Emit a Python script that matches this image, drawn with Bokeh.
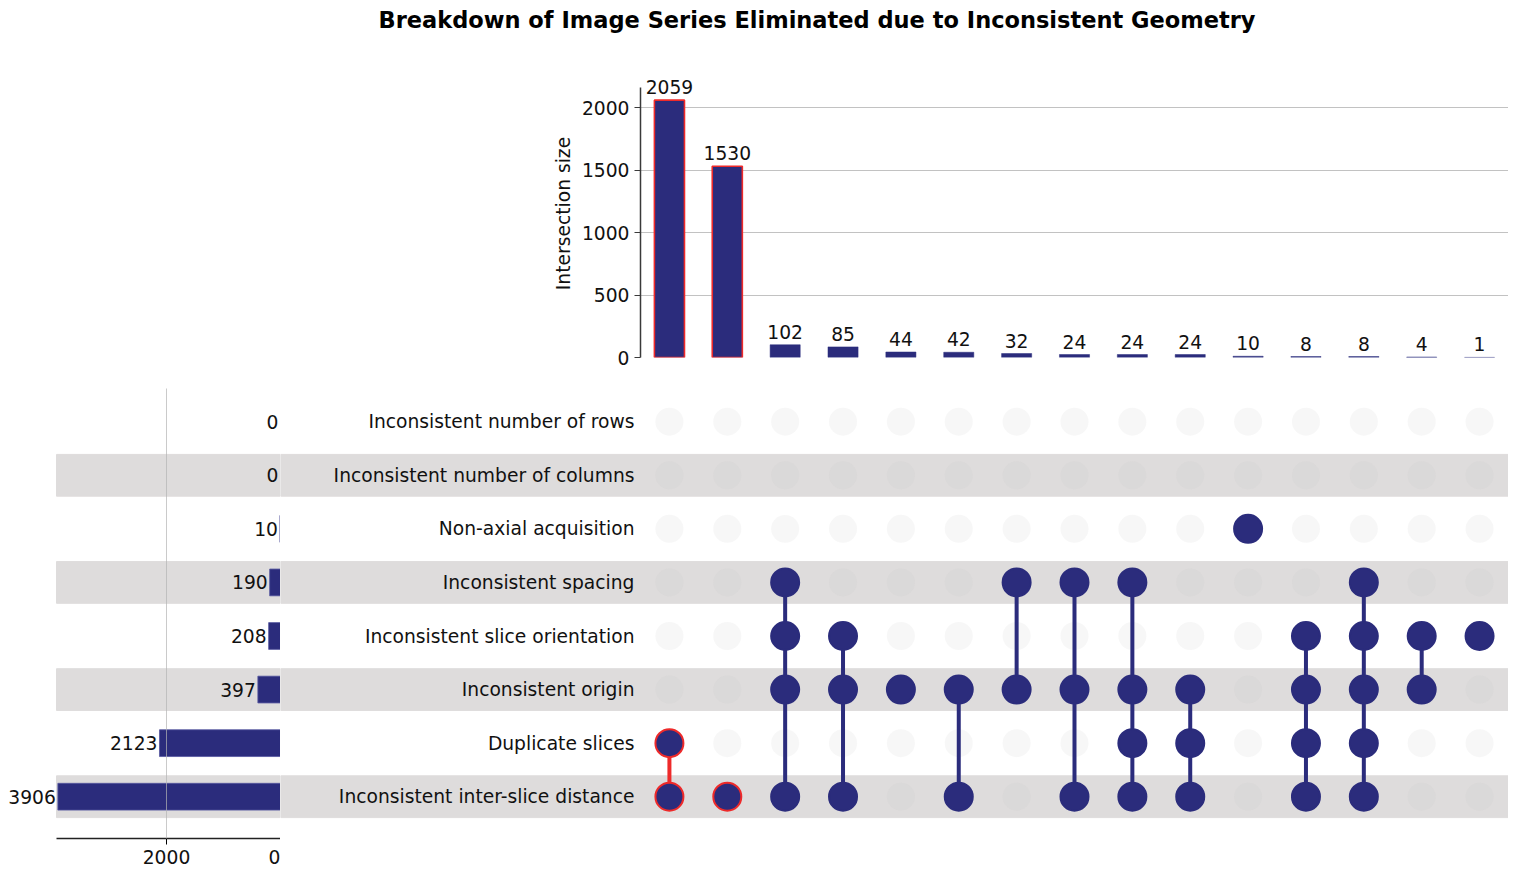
from bokeh.plotting import figure
from bokeh.layouts import column, row
from bokeh.models import ColumnDataSource, Range1d, LabelSet, FixedTicker
from bokeh.core.properties import value
from bokeh.embed import file_html
from bokeh.resources import INLINE

# data
chart_title = "Breakdown of Image Series Eliminated due to Inconsistent Geometry"
set_names = [
    "Inconsistent number of rows",
    "Inconsistent number of columns",
    "Non-axial acquisition",
    "Inconsistent spacing",
    "Inconsistent slice orientation",
    "Inconsistent origin",
    "Duplicate slices",
    "Inconsistent inter-slice distance",
]
set_sizes = [0, 0, 10, 190, 208, 397, 2123, 3906]
inter_sizes = [2059, 1530, 102, 85, 44, 42, 32, 24, 24, 24, 10, 8, 8, 4, 1]
# which sets (index into set_names) take part in each intersection
inter_members = [
    [6, 7],
    [7],
    [3, 4, 5, 7],
    [4, 5, 7],
    [5],
    [5, 7],
    [3, 5],
    [3, 5, 7],
    [3, 5, 6, 7],
    [5, 6, 7],
    [2],
    [4, 5, 6, 7],
    [3, 4, 5, 6, 7],
    [4, 5],
    [4],
]
highlighted = [True, True] + [False] * 13

NAVY = "#2b2c7c"
RED = "#ee2a2a"
BAND = "#dedcdc"
FONT = "DejaVu Sans"
FS = "18.7px"

n_sets = len(set_names)
n_cols = len(inter_sizes)
row_y = [n_sets - 1 - k for k in range(n_sets)]
band_y = [row_y[k] for k in range(n_sets) if k % 2 == 1]
cols = list(range(n_cols))

x_lo, x_hi = -0.5, n_cols - 0.5
y_lo, y_hi = -0.78, n_sets - 1 + 0.62
top_max = 2160
top_room = top_max + 144      # headroom so the value label of the tallest bar is not cut
set_max = 3930
set_room = set_max * 280 / 224   # leaves room left of the longest bar for its label

# ---- title (its frame lines up with the bar chart below)
p_title = figure(width=1508, height=37, output_backend="svg", toolbar_location=None,
                 min_border_left=640, min_border_right=0, min_border_top=0, min_border_bottom=0,
                 x_axis_location=None, y_axis_location=None, title=chart_title)
p_title.title.align = "left"
p_title.title.offset = -262
p_title.title.text_font = FONT
p_title.title.text_font_size = "22.5px"
p_title.title.text_font_style = "bold"
p_title.title.text_color = "#000000"
p_title.outline_line_color = None
p_title.xgrid.visible = False
p_title.ygrid.visible = False

# ---- intersection size bars
top_src = ColumnDataSource(dict(
    x=cols, size=inter_sizes, label=[str(v) for v in inter_sizes],
    edge=[RED if h else NAVY for h in highlighted],
    lw=[1.6 if h else 0.5 for h in highlighted],
))
p_top = figure(width=1508, height=348, output_backend="svg", toolbar_location=None,
               x_range=Range1d(x_lo, x_hi), y_range=Range1d(0, top_room),
               min_border_left=640, min_border_right=0, min_border_top=32, min_border_bottom=28)
p_top.vbar(x="x", top="size", width=0.52, source=top_src, fill_color=NAVY,
           line_color="edge", line_width="lw")
p_top.add_layout(LabelSet(x="x", y="size", text="label", source=top_src, text_align="center",
                          text_baseline="bottom", y_offset=6, text_font=value(FONT),
                          text_font_size=FS, text_color="#111111"))
p_top.xaxis.visible = False
p_top.xgrid.visible = False
p_top.yaxis.ticker = FixedTicker(ticks=[0, 500, 1000, 1500, 2000])
p_top.yaxis.bounds = (0, top_max)
p_top.yaxis.axis_label = "Intersection size"
p_top.yaxis.axis_label_text_font = FONT
p_top.yaxis.axis_label_text_font_size = FS
p_top.yaxis.axis_label_text_font_style = "normal"
p_top.yaxis.axis_label_text_color = "#111111"
p_top.yaxis.axis_label_standoff = 5
p_top.yaxis.major_label_text_font = FONT
p_top.yaxis.major_label_text_font_size = FS
p_top.yaxis.major_label_text_color = "#111111"
p_top.yaxis.axis_line_color = "#3a3a3a"
p_top.yaxis.axis_line_width = 1.5
p_top.yaxis.major_tick_line_color = "#3a3a3a"
p_top.yaxis.major_tick_out = 6
p_top.yaxis.major_tick_in = 0
p_top.yaxis.minor_tick_line_color = None
p_top.ygrid.grid_line_color = "#c2c2c2"
p_top.ygrid.grid_line_width = 1.2
p_top.outline_line_color = None

# ---- set size bars
set_src = ColumnDataSource(dict(y=row_y, size=set_sizes, label=[str(v) for v in set_sizes]))
p_set = figure(width=280, height=487, output_backend="svg", toolbar_location=None,
               x_range=Range1d(set_room, 0), y_range=Range1d(y_lo, y_hi),
               min_border_left=0, min_border_right=0, min_border_top=3, min_border_bottom=34,
               y_axis_location=None)
p_set.hbar(y=band_y, left=0, right=set_max, height=0.78, color=BAND)
p_set.hbar(y="y", left=0, right="size", height=0.5, source=set_src, fill_color=NAVY,
           line_color="#5557a0", line_width=0.8)
p_set.add_layout(LabelSet(x="size", y="y", text="label", source=set_src, text_align="right",
                          text_baseline="middle", x_offset=-2, text_font=value(FONT),
                          text_font_size=FS, text_color="#111111"))
p_set.xaxis.ticker = FixedTicker(ticks=[0, 2000])
p_set.xaxis.bounds = (0, set_max)
p_set.xaxis.major_label_text_font = FONT
p_set.xaxis.major_label_text_font_size = FS
p_set.xaxis.major_label_text_color = "#111111"
p_set.xaxis.major_label_standoff = 5
p_set.xaxis.axis_line_color = "#222222"
p_set.xaxis.axis_line_width = 1.5
p_set.xaxis.major_tick_out = 6
p_set.xaxis.major_tick_in = 0
p_set.xaxis.minor_tick_line_color = None
p_set.xgrid.grid_line_color = "#b4b4b4"
p_set.xgrid.grid_line_alpha = 0.7
p_set.xgrid.level = "annotation"
p_set.ygrid.visible = False
p_set.outline_line_color = None

# ---- membership matrix with set labels
mat_left = x_lo - 360 / 57.87
on_x, on_y, on_edge = [], [], []
off_x, off_y = [], []
seg_x, seg_lo, seg_hi, seg_col = [], [], [], []
for c, members in enumerate(inter_members):
    ys = [row_y[k] for k in members]
    for k in range(n_sets):
        if k in members:
            on_x.append(c)
            on_y.append(row_y[k])
            on_edge.append(RED if highlighted[c] else NAVY)
        else:
            off_x.append(c)
            off_y.append(row_y[k])
    if len(ys) > 1:
        seg_x.append(c)
        seg_lo.append(min(ys))
        seg_hi.append(max(ys))
        seg_col.append(RED if highlighted[c] else NAVY)

p_mat = figure(width=1228, height=487, output_backend="svg", toolbar_location=None,
               x_range=Range1d(mat_left, x_hi), y_range=Range1d(y_lo, y_hi),
               min_border_left=0, min_border_right=0, min_border_top=3, min_border_bottom=34,
               x_axis_location=None, y_axis_location=None)
p_mat.hbar(y=band_y, left=mat_left, right=x_hi, height=0.78, color=BAND)
p_mat.scatter(off_x, off_y, size=28, fill_color="#c4c4c4", fill_alpha=0.14, line_color=None)
p_mat.segment(x0=seg_x, y0=seg_lo, x1=seg_x, y1=seg_hi, line_color=seg_col, line_width=4)
p_mat.scatter(on_x, on_y, size=28, fill_color=NAVY, line_color=on_edge, line_width=2)
p_mat.text(x=[x_lo] * n_sets, y=row_y, text=set_names, text_align="right",
           text_baseline="middle", x_offset=-6, text_font=value(FONT),
           text_font_size=FS, text_color="#111111")
p_mat.xgrid.visible = False
p_mat.ygrid.visible = False
p_mat.outline_line_color = None

layout = column(p_title, p_top, row(p_set, p_mat))
open("out.html", "w").write(file_html(layout, INLINE))
